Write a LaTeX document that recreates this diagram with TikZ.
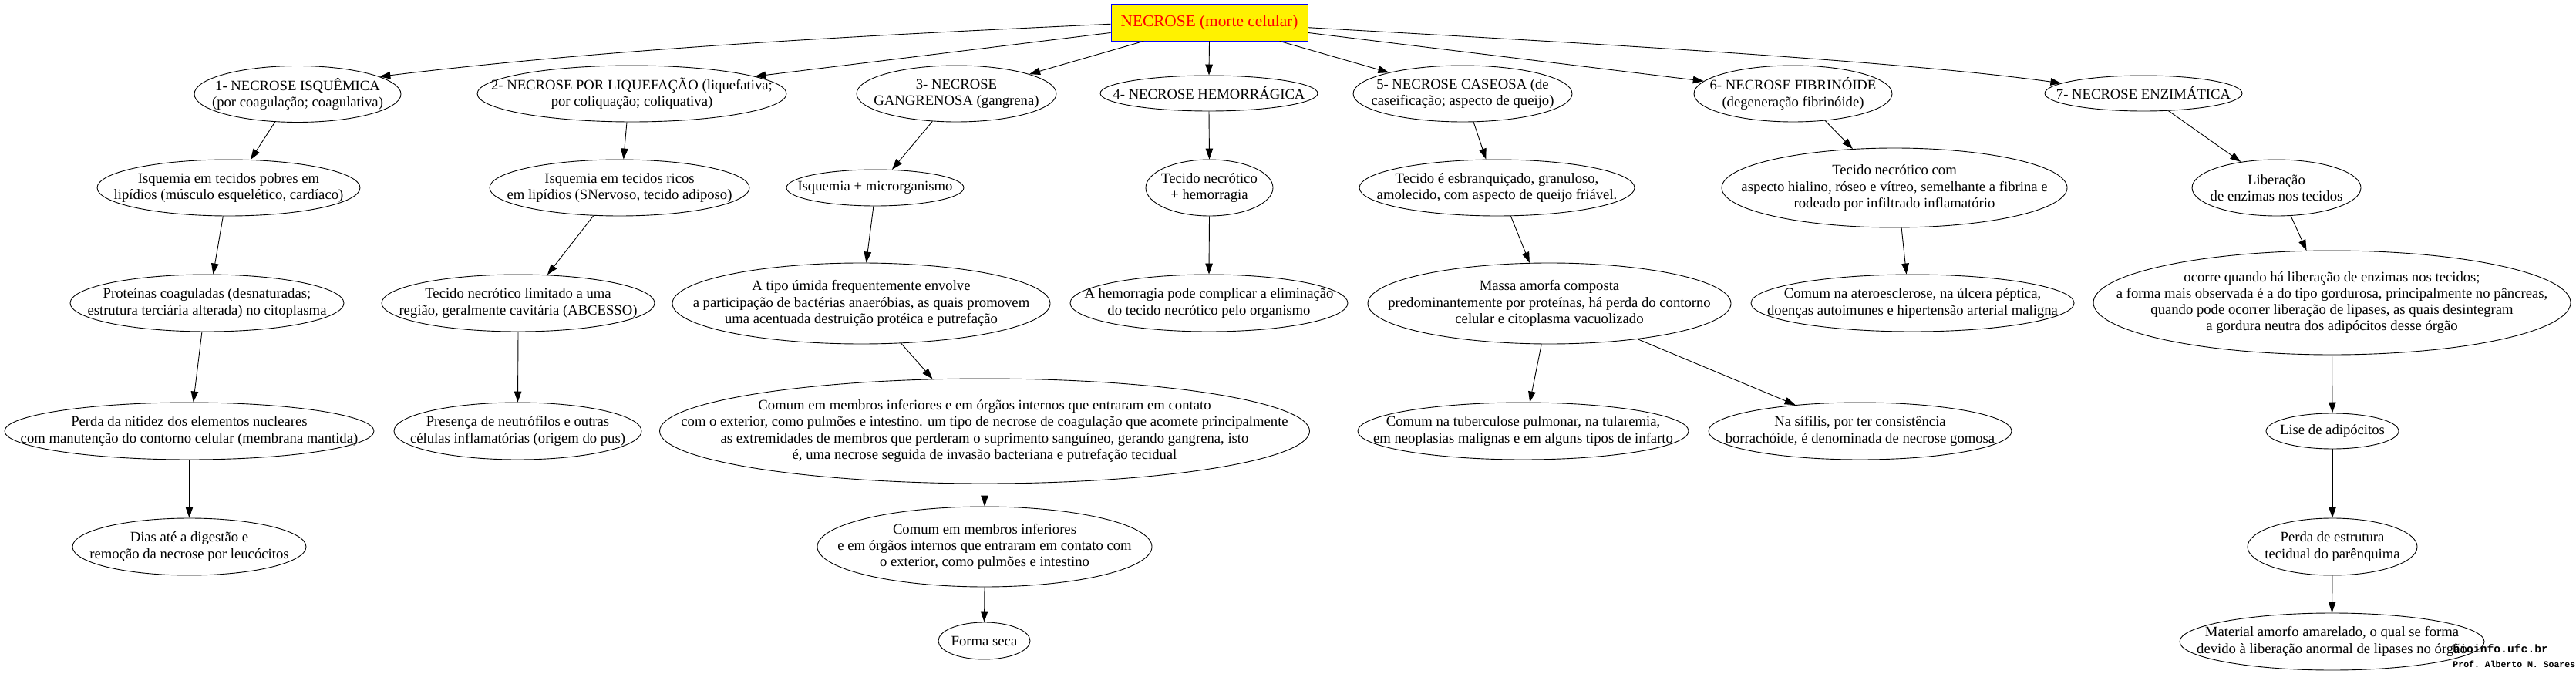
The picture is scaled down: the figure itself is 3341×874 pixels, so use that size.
\documentclass[tikz,border=0pt]{standalone}
\usepackage{fontspec}
\setmainfont{Liberation Serif}
\setmonofont{Liberation Mono}
\usetikzlibrary{arrows.meta,shapes.geometric}

\begin{document}
\begin{tikzpicture}[x=1pt,y=-1pt,>={Triangle[length=14pt,width=9.5pt]},line width=0.9pt,
	every node/.style={font=\fontsize{18.67}{21.3}\selectfont,align=center},
	oval/.style 2 args={draw,ellipse,inner sep=-300pt,minimum width=#1pt,minimum height=#2pt}]
			
			\useasboundingbox (0,0) rectangle (3341,874);
			
			\node[draw=blue,fill=yellow,text=red,inner sep=0pt,minimum width=255pt,minimum height=48pt,font=\fontsize{21.33}{24}\selectfont] (nec) at (1568.5,29){NECROSE (morte celular)};
			
			\node[oval={268}{73}] (isq) at (386,122){1- NECROSE ISQUÊMICA\\(por coagulação; coagulativa)};
			\node[oval={401}{73}] (liq) at (819.5,121.5){2- NECROSE POR LIQUEFAÇÃO (liquefativa;\\por coliquação; coliquativa)};
			\node[oval={259}{73}] (gang) at (1240.5,121.5){3- NECROSE\\GANGRENOSA (gangrena)};
			\node[oval={282}{46}] (hem) at (1568,121){4- NECROSE HEMORRÁGICA};
			\node[oval={284}{73}] (cas) at (1897,121.5){5- NECROSE CASEOSA (de\\caseificação; aspecto de queijo)};
			\node[oval={257}{73}] (fib) at (2325.5,121.5){6- NECROSE FIBRINÓIDE\\(degeneração fibrinóide)};
			\node[oval={256}{46}] (enz) at (2780,121){7- NECROSE ENZIMÁTICA};
			
			\node[oval={341}{73}] (isqA) at (296.5,243.5){Isquemia em tecidos pobres em\\lipídios (músculo esquelético, cardíaco)};
			\node[oval={337}{73}] (liqA) at (803.5,243.5){Isquemia em tecidos ricos\\em lipídios (SNervoso, tecido adiposo)};
			\node[oval={230}{47}] (gangA) at (1135,243.5){Isquemia + microrganismo};
			\node[oval={165}{73}] (hemA) at (1568.5,243.5){Tecido necrótico\\+ hemorragia};
			\node[oval={357}{73}] (casA) at (1941.5,243.5){Tecido é esbranquiçado, granuloso,\\amolecido, com aspecto de queijo friável.};
			\node[oval={448}{103}] (fibA) at (2457,243.5){Tecido necrótico com\\aspecto hialino, róseo e vítreo, semelhante a fibrina e\\rodeado por infiltrado inflamatório};
			\node[oval={219}{73}] (lib) at (2952.5,243.5){Liberação\\de enzimas nos tecidos};
			
			\node[oval={355}{74}] (prot) at (268.5,393){Proteínas coaguladas (desnaturadas;\\estrutura terciária alterada) no citoplasma};
			\node[oval={354}{74}] (tec) at (672,393){Tecido necrótico limitado a uma\\região, geralmente cavitária (ABCESSO)};
			\node[oval={490}{105}] (umida) at (1117,393.5){A tipo úmida frequentemente envolve\\a participação de bactérias anaeróbias, as quais promovem\\uma acentuada destruição protéica e putrefação};
			\node[oval={360}{74}] (hemB) at (1568,393){A hemorragia pode complicar a eliminação\\do tecido necrótico pelo organismo};
			\node[oval={471}{105}] (massa) at (2009.5,393.5){Massa amorfa composta\\predominantemente por proteínas, há perda do contorno\\celular e citoplasma vacuolizado};
			\node[oval={419}{74}] (atero) at (2480.5,393){Comum na ateroesclerose, na úlcera péptica,\\doenças autoimunes e hipertensão arterial maligna};
			\node[oval={619}{135}] (ocorre) at (3024.5,392.5){ocorre quando há liberação de enzimas nos tecidos;\\a forma mais observada é a do tipo gordurosa, principalmente no pâncreas,\\quando pode ocorrer liberação de lipases, as quais desintegram\\a gordura neutra dos adipócitos desse órgão};
			
			\node[oval={479}{74}] (perda) at (245.5,559){Perda da nitidez dos elementos nucleares\\com manutenção do contorno celular (membrana mantida)};
			\node[oval={321}{74}] (pres) at (671.5,559){Presença de neutrófilos e outras\\células inflamatórias (origem do pus)};
			\node[oval={843}{136}] (comumC) at (1277,559){Comum em membros inferiores e em órgãos internos que entraram em contato\\com o exterior, como pulmões e intestino. um tipo de necrose de coagulação que acomete principalmente\\as extremidades de membros que perderam o suprimento sanguíneo, gerando gangrena, isto\\é, uma necrose seguida de invasão bacteriana e putrefação tecidual};
			\node[oval={429}{74}] (tuber) at (1975.5,559){Comum na tuberculose pulmonar, na tularemia,\\em neoplasias malignas e em alguns tipos de infarto};
			\node[oval={393}{74}] (sifilis) at (2412.5,559){Na sífilis, por ter consistência\\borrachóide, é denominada de necrose gomosa};
			\node[oval={172}{46}] (lise) at (3025,559){Lise de adipócitos};
			
			\node[oval={303}{74}] (dias) at (245.5,709){Dias até a digestão e\\remoção da necrose por leucócitos};
			\node[oval={434}{104}] (comumD) at (1277,709){Comum em membros inferiores\\e em órgãos internos que entraram em contato com\\o exterior, como pulmões e intestino};
			\node[oval={220}{74}] (perdaE) at (3025,709){Perda de estrutura\\tecidual do parênquima};
			
			\node[oval={119}{48}] (seca) at (1276.5,831){Forma seca};
			\node[oval={395}{74}] (material) at (3024.5,832){Material amorfo amarelado, o qual se forma\\devido à liberação anormal de lipases no órgão};
			
			\node[anchor=base west,inner sep=0pt,font=\ttfamily\bfseries\fontsize{14.7}{15}\selectfont] (site) at (3181,846){bioinfo.ufc.br};
			\node[anchor=base west,inner sep=0pt,font=\ttfamily\bfseries\fontsize{11.5}{12}\selectfont] (prof) at (3181,865){Prof. Alberto M. Soares};
			
			\draw[->] (nec.181) .. controls (1140,45) and (800,62) .. (isq.12);
			\draw[->] (nec.-3) .. controls (2000,53) and (2450,77) .. (enz.173);
			
			\foreach \a/\s/\b/\e in {nec/186/liq/8, nec/196/gang/15, nec/south/hem/north, nec/-15/cas/164, nec/-6/fib/172,
				isq/-129/isqA/52, isqA/-101/prot/78, prot/-100/perda/82, perda/south/dias/north,
				liq/-100/liqA/82, liqA/-133/tec/44, tec/south/pres/north,
				gang/-131/gangA/47, gangA/-95/umida/83, umida/-45/comumC/135, comumC/south/comumD/north, comumD/south/seca/north,
				hem/south/hemA/north, hemA/south/hemB/north,
				cas/-69/casA/111, casA/-64/massa/116, massa/-101/tuber/77, massa/-22/sifilis/158,
				fib/-40/fibA/137, fibA/-80/atero/102,
				enz/-35/lib/144, lib/-63/ocorre/116, ocorre/south/lise/north, lise/south/perdaE/north, perdaE/south/material/north}
			{
				\draw[->] (\a.\s) -- (\b.\e);
			}
			
		\end{tikzpicture}
\end{document}
